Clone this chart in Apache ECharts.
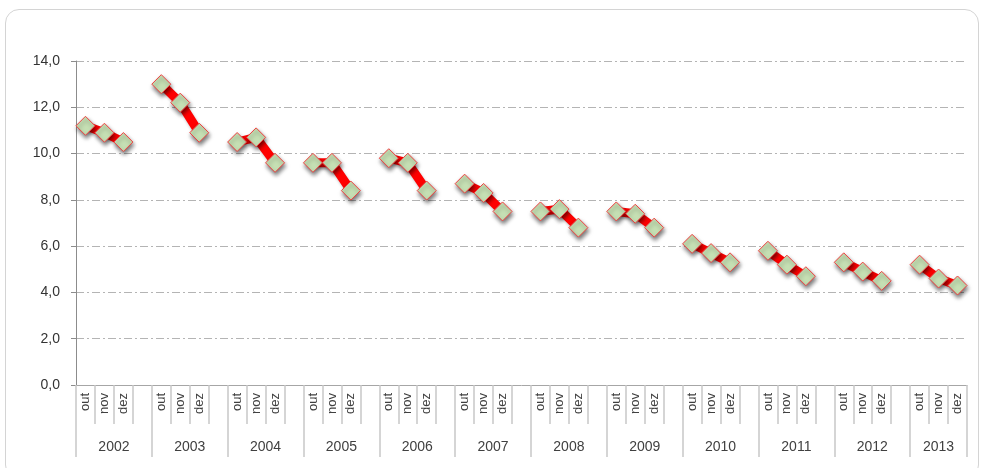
<!DOCTYPE html>
<html>
<head>
<meta charset="utf-8">
<script src="https://cdn.jsdelivr.net/npm/echarts@6/dist/echarts.min.js"></script>
<style>
html,body{margin:0;padding:0;background:#fff;}
#frame{position:absolute;left:5px;top:9px;width:974px;height:470px;border:1px solid #d4d4d4;border-radius:14px;box-sizing:border-box;}
#chart{position:absolute;left:0;top:0;width:983px;height:468px;}
</style>
</head>
<body>
<div id="frame"></div>
<div id="chart"></div>
<script>
const years = ['2002','2003','2004','2005','2006','2007','2008','2009','2010','2011','2012','2013'];
const months = ['out','nov','dez'];
const rates2002 = [11.2, 10.9, 10.5];
const rates2003 = [13.0, 12.2, 10.9];
const rates2004 = [10.5, 10.7, 9.6];
const rates2005 = [9.6, 9.6, 8.4];
const rates2006 = [9.8, 9.6, 8.4];
const rates2007 = [8.7, 8.3, 7.5];
const rates2008 = [7.5, 7.6, 6.8];
const rates2009 = [7.5, 7.4, 6.8];
const rates2010 = [6.1, 5.7, 5.3];
const rates2011 = [5.8, 5.2, 4.7];
const rates2012 = [5.3, 4.9, 4.5];
const rates2013 = [5.2, 4.6, 4.3];
const yTicks = [0, 2, 4, 6, 8, 10, 12, 14];

const allRates = [rates2002, rates2003, rates2004, rates2005, rates2006, rates2007,
                  rates2008, rates2009, rates2010, rates2011, rates2012, rates2013];

// Build category list (blank slot between years) and series data
const categories = [];
const data = [];
const groupBounds = [];
const groupCenters = [];
allRates.forEach((arr, yi) => {
  const start = categories.length;
  groupBounds.push(start);
  months.forEach((m, mi) => { categories.push(m); data.push(arr[mi]); });
  if (yi < allRates.length - 1) { categories.push(''); data.push(null); }
  const end = (yi < allRates.length - 1) ? start + 4 : start + 3;
  groupCenters.push((start + end) / 2);
});
groupBounds.push(categories.length);
const yearByCenter = {};
groupCenters.forEach((c, i) => { yearByCenter[c] = years[i]; });

const chart = echarts.init(document.getElementById('chart'));
chart.setOption({
  animation: false,
  backgroundColor: 'transparent',
  grid: { left: 76, right: 16, top: 61, bottom: 83, containLabel: false },
  xAxis: [
    {
      type: 'category',
      data: categories,
      boundaryGap: true,
      axisLine: { lineStyle: { color: '#a6a6a6', width: 1 } },
      axisTick: { show: true, interval: 0, length: 39, lineStyle: { color: '#c8c8c8', width: 1.5 } },
      axisLabel: {
        interval: 0, rotate: 90, margin: 8,
        fontFamily: 'Liberation Sans', fontSize: 13, color: '#404040'
      }
    },
    {
      type: 'value',
      position: 'bottom',
      min: 0,
      max: categories.length,
      axisLine: { show: false },
      splitLine: { show: false },
      axisTick: { show: true, customValues: groupBounds, length: 72, lineStyle: { color: '#c8c8c8', width: 1.5 } },
      axisLabel: {
        show: true, customValues: groupCenters, margin: 55,
        formatter: v => yearByCenter[v] || '',
        fontFamily: 'Liberation Sans', fontSize: 14, color: '#404040'
      }
    }
  ],
  yAxis: {
    type: 'value',
    min: 0, max: 14, interval: 2,
    axisLine: { show: true, lineStyle: { color: '#8c8c8c' } },
    axisTick: { show: true, length: 5, lineStyle: { color: '#8c8c8c' } },
    axisLabel: {
      margin: 16,
      formatter: v => yTicks.includes(v) ? v.toFixed(1).replace('.', ',') : '',
      fontFamily: 'Liberation Sans', fontSize: 14, color: '#333'
    },
    splitLine: { show: true, lineStyle: { color: '#b4b4b4', type: [8, 3, 2, 3], width: 1 } }
  },
  series: [{
    type: 'line',
    xAxisIndex: 0,
    data: data,
    connectNulls: false,
    symbol: 'diamond',
    symbolSize: 19,
    lineStyle: { color: '#ff0000', width: 9, shadowColor: 'rgba(0,0,0,0.25)', shadowBlur: 3, shadowOffsetX: 1, shadowOffsetY: 2 },
    itemStyle: {
      color: '#c6e0b4', borderColor: '#f04040', borderWidth: 1,
      shadowColor: 'rgba(0,0,0,0.55)', shadowBlur: 4, shadowOffsetX: 1, shadowOffsetY: 3
    },
    emphasis: { disabled: true }
  }]
});
</script>
</body>
</html>
